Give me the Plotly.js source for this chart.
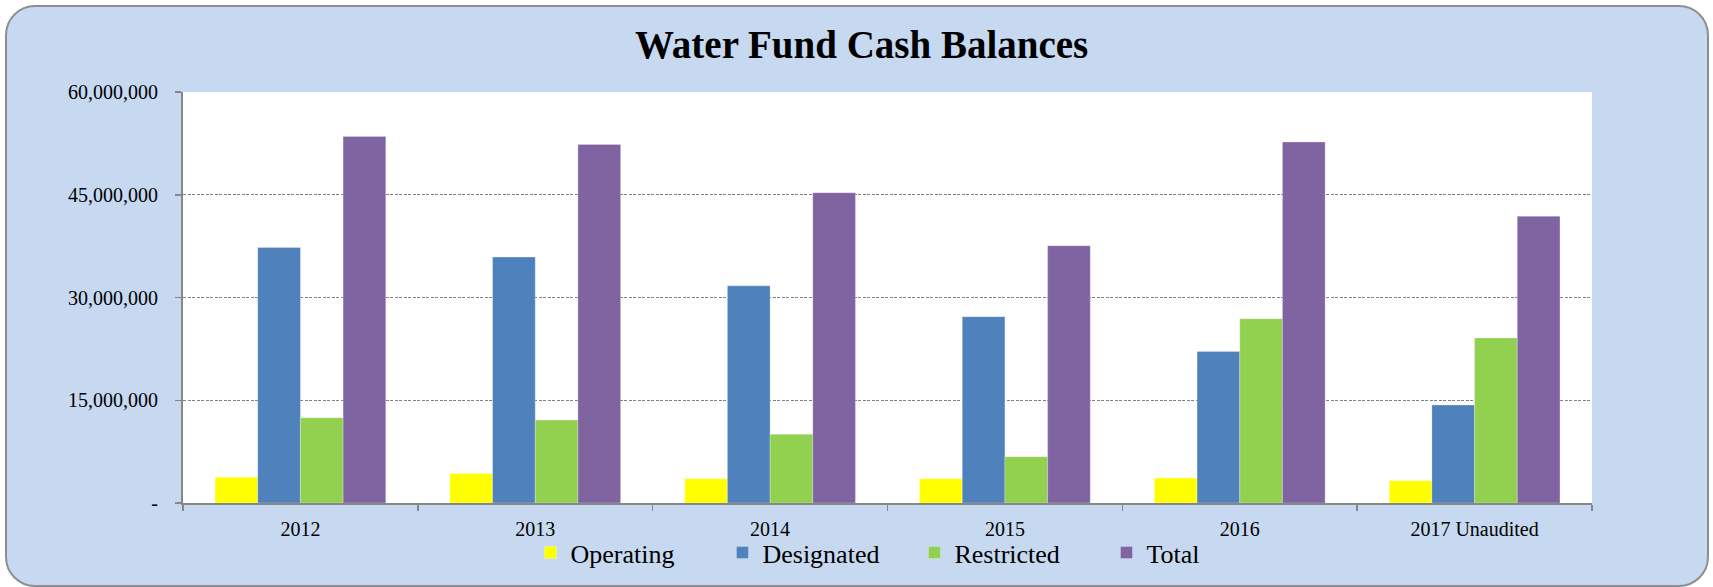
<!DOCTYPE html>
<html>
<head>
<meta charset="utf-8">
<script src="https://cdn.plot.ly/plotly-3.0.1.min.js"></script>
<style>
  html, body { margin: 0; padding: 0; background: #ffffff; }
  #frame {
    position: absolute; left: 5px; top: 5px; width: 1700px; height: 578px;
    background: #C6D9F1; border: 2px solid #8E8E8E; border-radius: 30px;
  }
  #chart { position: absolute; left: 0; top: 0; width: 1713px; height: 587px; }
</style>
</head>
<body>
<div id="frame"></div>
<div id="chart"></div>
<script>
// ---- data ----
const categories = ["2012", "2013", "2014", "2015", "2016", "2017 Unaudited"];
const operating  = [3750000, 4300000, 3550000, 3550000, 3650000, 3250000];
const designated = [37300000, 35900000, 31700000, 27200000, 22100000, 14300000];
const restricted = [12450000, 12100000, 10050000, 6750000, 26900000, 24100000];
const total      = [53500000, 52350000, 45300000, 37550000, 52700000, 41850000];
const seriesNames = ["Operating", "Designated", "Restricted", "Total"];
const yTickVals = [0, 15000000, 30000000, 45000000, 60000000];
const yTickText = ["-", "15,000,000", "30,000,000", "45,000,000", "60,000,000"];

const colors = ["#FFFF00", "#4F81BD", "#92D050", "#8064A2"];
const values = [operating, designated, restricted, total];
const FONT = "'Liberation Serif', 'Times New Roman', serif";

const traces = values.map((v, i) => ({
  type: "bar",
  name: seriesNames[i],
  x: categories,
  y: v,
  marker: { color: colors[i], line: { color: "rgba(255,255,255,0.5)", width: 0.5 } },
  hoverinfo: "x+y+name"
}));

const layout = {
  width: 1713,
  height: 587,
  paper_bgcolor: "rgba(0,0,0,0)",
  plot_bgcolor: "#ffffff",
  margin: { l: 183, r: 121, t: 92, b: 84, pad: 0, autoexpand: false },
  barmode: "group",
  bargap: 0.273,
  bargroupgap: 0,
  font: { family: FONT, color: "#000000", size: 20 },
  title: {
    text: "<b>Water Fund Cash Balances</b>",
    font: { family: FONT, size: 39, color: "#000000" },
    xref: "container", x: 0.503, xanchor: "center",
    yref: "container", y: 0.925, yanchor: "middle"
  },
  xaxis: {
    type: "category",
    showline: true, linecolor: "#878787", linewidth: 2,
    ticks: "outside", tickson: "boundaries", ticklen: 6, tickcolor: "#878787", tickwidth: 1.5,
    showgrid: false, zeroline: false,
    ticklabelstandoff: 7,
    automargin: false,
    tickfont: { family: FONT, size: 20, color: "#000000" }
  },
  yaxis: {
    range: [0, 60000000],
    tickvals: yTickVals, ticktext: yTickText,
    showline: true, linecolor: "#878787", linewidth: 2,
    ticks: "outside", ticklen: 6, tickcolor: "#878787", tickwidth: 1.5,
    showgrid: true, gridcolor: "#808080", gridwidth: 1, griddash: "3px,1.5px",
    zeroline: false,
    ticklabelstandoff: 13,
    automargin: false,
    tickfont: { family: FONT, size: 20, color: "#000000" }
  },
  legend: {
    orientation: "h",
    x: 0.2466, xanchor: "left",
    yref: "container", y: 0.0584, yanchor: "middle",
    bgcolor: "rgba(0,0,0,0)",
    font: { family: FONT, size: 26, color: "#000000" },
    entrywidth: 147,
    traceorder: "normal"
  },
  showlegend: true
};

Plotly.newPlot("chart", traces, layout, { displayModeBar: false, staticPlot: true });
</script>
</body>
</html>
